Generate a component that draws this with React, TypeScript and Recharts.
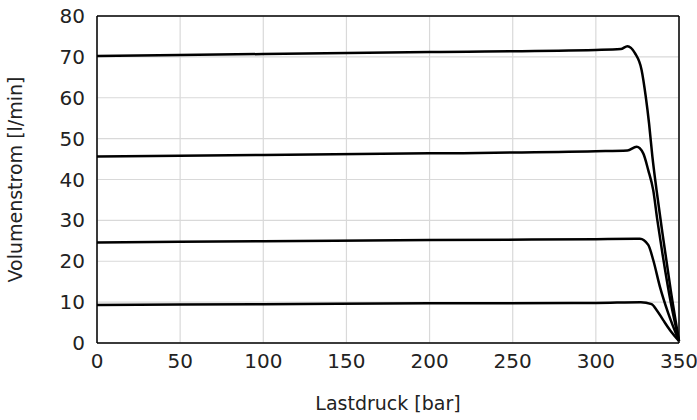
import { LineChart, Line, XAxis, YAxis, CartesianGrid, ReferenceLine } from "recharts";

// Lastdruck [bar] / Volumenstrom [l/min] pro Kennlinie
const druck1 = [0, 100, 200, 300, 315, 319, 323.5, 327.5, 330, 332, 334, 336.5, 340, 345, 350];
const strom1 = [70.2, 70.7, 71.2, 71.7, 71.9, 72.6, 70.9, 66.8, 60.3, 53.7, 45.6, 37.4, 27, 13, 0.5];

const druck2 = [0, 100, 200, 300, 319, 324.5, 328.5, 331.5, 334.5, 337, 340, 345, 350];
const strom2 = [45.6, 46.0, 46.4, 46.9, 47.1, 48, 46.4, 42.3, 37.4, 30, 22, 10, 0.5];

const druck3 = [0, 100, 200, 300, 326.5, 331.5, 334.5, 338.5, 343.5, 350];
const strom3 = [24.6, 24.9, 25.2, 25.4, 25.5, 24, 20.3, 13.8, 7.3, 0.5];

const druck4 = [0, 100, 200, 300, 327, 333.5, 336.5, 340.5, 344.5, 350];
const strom4 = [9.3, 9.5, 9.7, 9.8, 10, 9.5, 8.1, 5.6, 3.2, 0.5];

const xTicks = [0, 50, 100, 150, 200, 250, 300, 350];
const yTicks = [0, 10, 20, 30, 40, 50, 60, 70, 80];

const toData = (xs: number[], ys: number[]) => xs.map((x, i) => ({ x, y: ys[i] }));

const kurven = [
  toData(druck1, strom1),
  toData(druck2, strom2),
  toData(druck3, strom3),
  toData(druck4, strom4),
];

const font = "'DejaVu Sans', sans-serif";

export default function App() {
  return (
    <div style={{ position: "absolute", left: 0, top: 0, fontFamily: font }}>
      <LineChart width={697} height={420} margin={{ top: 16, right: 18, bottom: 0, left: 0 }}>
        <CartesianGrid stroke="#d9d9d9" strokeWidth={1.2} />
        <XAxis
          type="number"
          dataKey="x"
          domain={[0, 350]}
          ticks={xTicks}
          allowDuplicatedCategory={false}
          height={77}
          tickLine={false}
          axisLine={{ stroke: "#000", strokeWidth: 1.5 }}
          tick={{ fontSize: 20, fill: "#222", fontFamily: font }}
          tickMargin={5}
          label={{ value: "Lastdruck [bar]", position: "insideBottom", offset: 10, fontSize: 19, fill: "#222", fontFamily: font }}
        />
        <YAxis
          type="number"
          dataKey="y"
          domain={[0, 80]}
          ticks={yTicks}
          width={97}
          tickLine={false}
          axisLine={{ stroke: "#000", strokeWidth: 1.5 }}
          tick={{ fontSize: 20, fill: "#222", fontFamily: font }}
          tickMargin={6}
          label={{ value: "Volumenstrom [l/min]", angle: -90, position: "insideLeft", offset: 15, fontSize: 19, fill: "#222", fontFamily: font, style: { textAnchor: "middle" } }}
        />
        <ReferenceLine y={80} stroke="#000" strokeWidth={1.5} />
        <ReferenceLine x={350} stroke="#000" strokeWidth={1.5} />
        {kurven.map((d, i) => (
          <Line
            key={i}
            data={d}
            dataKey="y"
            type="monotone"
            stroke="#000"
            strokeWidth={2.5}
            dot={false}
            activeDot={false}
            isAnimationActive={false}
          />
        ))}
      </LineChart>
    </div>
  );
}
